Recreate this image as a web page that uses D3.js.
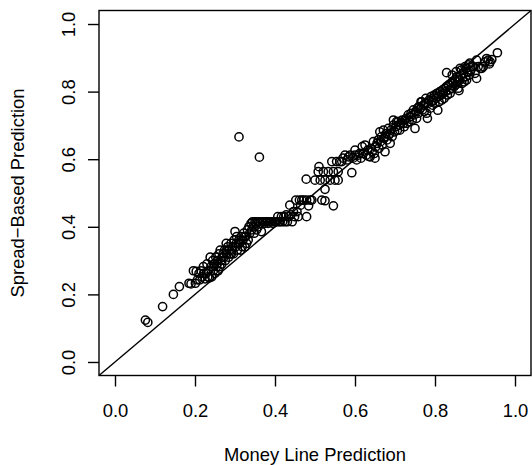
<!DOCTYPE html>
<html>
<head>
<meta charset="utf-8">
<script src="https://cdnjs.cloudflare.com/ajax/libs/d3/7.8.5/d3.min.js"></script>
<style>
  body { margin: 0; background: #fff; }
  text { font-family: "Liberation Sans", Arial, Helvetica, sans-serif; fill: #000; }
</style>
</head>
<body>
<div class="scatter"></div>
<script>
// [money line prediction, spread-based prediction]
const tailPts = [
  [0.076,0.124],[0.082,0.117],[0.119,0.164],[0.146,0.200],[0.161,0.223],[0.185,0.233],[0.190,0.231],[0.196,0.270],[0.201,0.233],[0.203,0.268]
];
const lowPts = [
  [0.206,0.243],[0.210,0.262],[0.212,0.243],[0.215,0.270],[0.218,0.252],[0.221,0.282],[0.225,0.246],[0.228,0.262],[0.230,0.290],[0.233,0.270],
  [0.236,0.249],[0.238,0.310],[0.240,0.282],[0.242,0.252],[0.244,0.300],[0.246,0.270],[0.248,0.290],[0.250,0.262],[0.252,0.310],[0.254,0.282],
  [0.256,0.300],[0.258,0.270],[0.260,0.320],[0.262,0.282],[0.263,0.331],[0.265,0.300],[0.267,0.290],[0.270,0.320],[0.272,0.310],[0.274,0.331],
  [0.276,0.300],[0.278,0.351],[0.280,0.320],[0.282,0.341],[0.284,0.310],[0.286,0.331],[0.288,0.320],[0.290,0.351],[0.292,0.331],[0.294,0.341],
  [0.296,0.320],[0.298,0.361],[0.300,0.386],[0.302,0.341],[0.304,0.371],[0.306,0.331],[0.308,0.351],[0.310,0.361],[0.312,0.351],[0.314,0.331],
  [0.316,0.371],[0.318,0.341],[0.320,0.361],[0.322,0.381],[0.325,0.341],[0.327,0.371],[0.329,0.351],[0.331,0.391],[0.333,0.361],[0.335,0.400],
  [0.222,0.262],[0.232,0.252],[0.245,0.282],[0.255,0.290],[0.268,0.310],[0.279,0.331],[0.291,0.320],[0.303,0.351],[0.315,0.361],[0.324,0.371]
];
const flatPts = [
  [0.337,0.381],[0.340,0.410],[0.342,0.391],[0.344,0.415],[0.346,0.400],[0.348,0.381],[0.350,0.415],[0.352,0.410],[0.354,0.391],[0.356,0.415],
  [0.358,0.400],[0.360,0.415],[0.363,0.410],[0.366,0.386],[0.368,0.415],[0.371,0.415],[0.374,0.410],[0.377,0.415],[0.380,0.415],[0.383,0.410],
  [0.386,0.415],[0.389,0.415],[0.392,0.415],[0.395,0.410],[0.398,0.415],[0.401,0.415],[0.404,0.415],[0.407,0.430],[0.410,0.415],[0.413,0.415],
  [0.416,0.430],[0.419,0.415],[0.422,0.430],[0.425,0.415],[0.428,0.435],[0.431,0.415],[0.434,0.430],[0.437,0.464],[0.440,0.435],[0.443,0.415],
  [0.446,0.445],[0.449,0.430],[0.452,0.479],[0.455,0.445],[0.458,0.430],[0.461,0.479],[0.464,0.464],[0.467,0.479],[0.472,0.479],[0.479,0.430],
  [0.479,0.479],[0.484,0.462],[0.488,0.479],[0.492,0.479]
];
const midPts = [
  [0.478,0.541],[0.500,0.538],[0.508,0.563],[0.510,0.578],[0.513,0.538],[0.517,0.479],[0.521,0.563],[0.525,0.477],[0.525,0.511],[0.525,0.538],
  [0.533,0.563],[0.538,0.538],[0.542,0.593],[0.546,0.563],[0.546,0.462],[0.550,0.538],[0.554,0.593],[0.558,0.538],[0.558,0.563],[0.562,0.593],
  [0.567,0.593],[0.570,0.603],[0.575,0.612],[0.580,0.598],[0.584,0.607],[0.588,0.612],[0.592,0.560],[0.595,0.603],[0.600,0.612],[0.600,0.627],
  [0.604,0.598],[0.608,0.612],[0.612,0.617],[0.615,0.603],[0.618,0.637],[0.621,0.617],[0.625,0.642],[0.628,0.612],[0.632,0.627],[0.635,0.608],
  [0.638,0.607],[0.640,0.632],[0.643,0.622],[0.646,0.652],[0.648,0.617],[0.650,0.603],[0.652,0.637],[0.655,0.647],[0.658,0.657],[0.660,0.632]
];
const upperPts = [
  [0.662,0.681],[0.664,0.652],[0.666,0.667],[0.668,0.642],[0.671,0.686],[0.673,0.662],[0.675,0.667],[0.675,0.622],[0.678,0.676],[0.680,0.657],
  [0.683,0.691],[0.685,0.672],[0.688,0.677],[0.688,0.647],[0.690,0.686],[0.693,0.667],[0.696,0.701],[0.696,0.716],[0.699,0.681],[0.702,0.696],
  [0.704,0.711],[0.706,0.686],[0.708,0.711],[0.710,0.701],[0.712,0.686],[0.715,0.706],[0.718,0.716],[0.721,0.706],[0.723,0.696],[0.725,0.716],
  [0.728,0.721],[0.730,0.706],[0.733,0.731],[0.735,0.711],[0.738,0.726],[0.740,0.736],[0.743,0.716],[0.746,0.746],[0.748,0.731],[0.750,0.691],
  [0.752,0.741],[0.754,0.721],[0.756,0.751],[0.758,0.736],[0.760,0.756],[0.763,0.750],[0.765,0.770],[0.767,0.770],[0.769,0.746],[0.771,0.760],
  [0.773,0.741],[0.775,0.765],[0.777,0.780],[0.779,0.736],[0.781,0.721],[0.783,0.765],[0.785,0.775],[0.788,0.751],[0.790,0.785],[0.792,0.770],
  [0.794,0.760],[0.796,0.775],[0.798,0.790],[0.800,0.765]
];
const topPts = [
  [0.802,0.780],[0.805,0.795],[0.807,0.745],[0.808,0.785],[0.810,0.770],[0.812,0.800],[0.815,0.790],[0.817,0.775],[0.819,0.805],[0.821,0.795],
  [0.823,0.780],[0.825,0.810],[0.827,0.800],[0.829,0.856],[0.829,0.815],[0.831,0.790],[0.834,0.820],[0.836,0.805],[0.838,0.795],[0.840,0.825],
  [0.842,0.810],[0.844,0.830],[0.846,0.824],[0.848,0.815],[0.850,0.834],[0.852,0.820],[0.854,0.844],[0.856,0.829],[0.858,0.810],[0.860,0.803],
  [0.862,0.834],[0.863,0.869],[0.865,0.849],[0.867,0.824],[0.869,0.839],[0.871,0.854],[0.873,0.829],[0.875,0.874],[0.877,0.844],[0.879,0.834],
  [0.881,0.859],[0.883,0.879],[0.885,0.849],[0.888,0.859],[0.890,0.864],[0.893,0.874],[0.896,0.874],[0.900,0.854],[0.904,0.893],[0.904,0.839],
  [0.908,0.874],[0.913,0.869],[0.917,0.869],[0.921,0.874],[0.925,0.888],[0.929,0.898],[0.933,0.893],[0.936,0.882],[0.938,0.888],[0.942,0.895],
  [0.956,0.915],[0.843,0.849],[0.853,0.859],[0.866,0.864],[0.878,0.869],[0.887,0.884]
];
const outlierPts = [[0.310,0.666],[0.361,0.606]];

const xTicks = [0, 0.2, 0.4, 0.6, 0.8, 1.0];
const yTicks = [0, 0.2, 0.4, 0.6, 0.8, 1.0];
const xTitle = 'Money Line Prediction';
const yTitle = 'Spread\u2212Based Prediction';

let W = 532, H = 465;
let plot = {left: 99, right: 531, top: 10.5, bottom: 375.5};
let fontSize = 18.4;
let lw = 1.4;

let svg = d3.select('.scatter').append('svg')
  .attr('width', W)
  .attr('height', H);

svg.append('rect').attr('width', W).attr('height', H).attr('fill', '#fff');

// R style: 4% padding on both ends
let x = d3.scaleLinear().domain([-0.04, 1.04]).range([plot.left, plot.right]);
let y = d3.scaleLinear().domain([-0.04, 1.04]).range([plot.bottom, plot.top]);

let allPts = [].concat(tailPts, lowPts, flatPts, midPts, upperPts, topPts, outlierPts);

// y = x reference line
svg.append('line')
  .attr('x1', x(-0.04)).attr('y1', y(-0.04))
  .attr('x2', x(1.04)).attr('y2', y(1.04))
  .attr('stroke', '#000')
  .attr('stroke-width', lw);

svg.append('g')
  .selectAll('circle')
  .data(allPts)
  .enter().append('circle')
    .attr('cx', d => x(d[0]))
    .attr('cy', d => y(d[1]))
    .attr('r', 4.1)
    .attr('fill', 'none')
    .attr('stroke', '#000')
    .attr('stroke-width', 1.5);

// axes
let xAxis = svg.append('g')
  .attr('transform', `translate(0,${plot.bottom})`)
  .call(d3.axisBottom(x).tickValues(xTicks).tickFormat(d3.format('.1f')).tickSize(11));
let yAxis = svg.append('g')
  .attr('transform', `translate(${plot.left},0)`)
  .call(d3.axisLeft(y).tickValues(yTicks).tickFormat(d3.format('.1f')).tickSize(11));

[xAxis, yAxis].forEach(g => {
  g.select('.domain').remove();
  g.selectAll('line').attr('stroke', '#000').attr('stroke-width', lw);
  g.selectAll('text').attr('font-size', fontSize).attr('font-family', null).attr('fill', '#000');
});

// rotated y tick labels, like las = 0
yAxis.selectAll('text')
  .attr('x', null).attr('dy', null)
  .attr('text-anchor', 'middle')
  .attr('transform', 'translate(-24.5,0) rotate(-90)');

xAxis.selectAll('text').attr('dy', null).attr('y', 41.5);

// box
svg.append('rect')
  .attr('x', plot.left).attr('y', plot.top)
  .attr('width', plot.right - plot.left)
  .attr('height', plot.bottom - plot.top)
  .attr('fill', 'none')
  .attr('stroke', '#000')
  .attr('stroke-width', lw);

svg.append('text')
  .attr('x', (plot.left + plot.right) / 2)
  .attr('y', 461)
  .attr('text-anchor', 'middle')
  .attr('font-size', fontSize)
  .text(xTitle);

svg.append('text')
  .attr('transform', `translate(24,${(plot.top + plot.bottom) / 2}) rotate(-90)`)
  .attr('text-anchor', 'middle')
  .attr('font-size', fontSize)
  .text(yTitle);
</script>
</body>
</html>
